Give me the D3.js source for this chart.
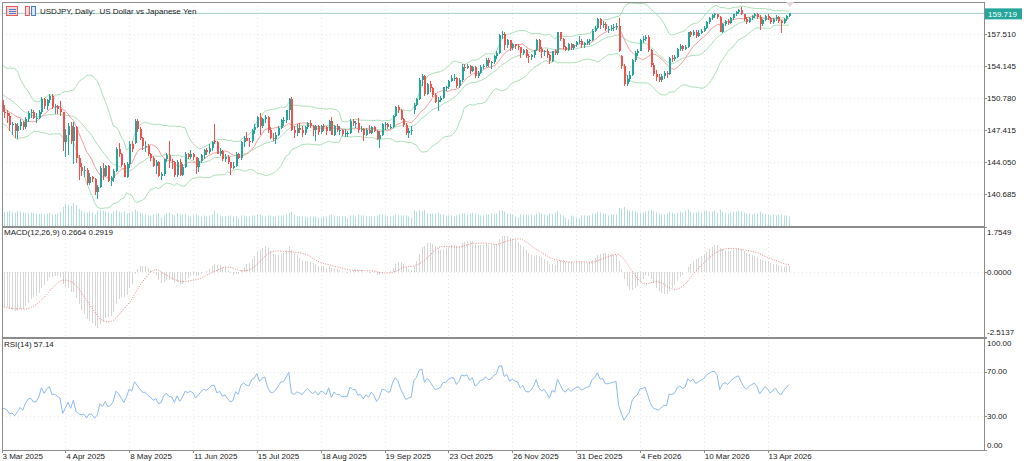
<!DOCTYPE html>
<html><head><meta charset="utf-8">
<script src="https://cdn.jsdelivr.net/npm/d3@7"></script>
<style>
body{margin:0;background:#fff;}
svg{display:block;font-family:"Liberation Sans",Arial,sans-serif;}
</style>
</head><body>
<svg id="c" width="1024" height="461"></svg>
<script>
// ---------- DATA ----------
// closes before the first visible bar (used only to warm up the indicators)
const priorClose = [149.6,149.6,150.6,150.1,150.0,151.2,151.9,152.4,152.7,153.6,154.1,153.5,154.7,157.4,156.4,157.1,157.2,157.9,157.9,156.9,157.2,
157.5,157.3,157.6,158.1,158.3,158.1,157.7,157.5,158.0,156.5,155.2,156.3,155.6,155.5,156.6,156.0,156.0,154.6,155.5,155.2,154.3,155.2,
154.7,154.4,152.6,151.9,151.4,152.0,152.5,154.4,152.8,152.3,151.5,151.9,151.5,149.9,149.3,149.7,149.0,149.1,149.8,150.6];

const open = [150.6,149.3,149.2,148.9,147.9,148.0,147.3,147.8,148.3,147.7,
148.6,149.2,149.3,148.7,148.7,149.3,150.7,149.9,150.6,151.0,
149.8,149.9,149.6,149.3,146.1,146.9,147.8,146.3,147.7,144.5,
143.5,143.1,143.2,141.8,142.5,142.2,140.9,141.4,143.4,142.6,
143.6,142.0,142.3,143.1,145.4,144.9,143.7,142.5,143.8,145.9,
146.0,148.4,147.5,146.6,145.7,145.7,144.9,144.5,143.6,144.0,
142.6,142.8,144.3,144.8,144.1,144.0,142.7,144.0,142.7,143.5,
144.9,144.6,144.9,144.6,143.5,144.1,144.8,145.3,145.1,145.5,
146.3,146.1,144.9,145.2,144.4,144.6,144.0,143.4,143.6,144.9,
144.5,146.1,146.6,146.3,146.2,147.4,147.7,148.8,147.8,148.6,
148.8,147.4,146.6,146.5,146.9,147.6,148.5,148.5,149.5,150.7,
147.4,147.1,147.6,147.4,147.1,147.7,148.2,147.8,147.4,147.8,
147.2,147.8,147.7,147.3,148.4,146.9,147.8,147.4,147.4,147.0,
147.1,147.1,148.4,148.1,148.1,147.4,147.5,146.9,147.4,147.1,
147.7,147.3,146.5,146.9,148.0,148.0,147.7,147.7,148.9,149.8,
149.5,148.6,147.9,147.1,147.3,149.5,150.1,150.7,152.7,153.1,
151.2,152.3,151.8,151.1,150.4,150.6,150.8,151.9,151.9,152.6,
152.9,152.9,152.1,152.7,154.1,154.0,154.2,153.6,154.1,153.1,
153.4,154.1,154.2,154.8,154.5,154.6,155.2,155.5,157.4,157.5,
156.4,156.9,156.1,156.5,156.3,156.2,155.5,155.9,155.2,155.1,
155.3,155.9,156.9,156.0,155.6,155.8,155.3,154.7,155.7,155.5,
157.7,157.0,156.2,155.9,156.5,156.1,156.4,156.7,156.8,156.4,
156.6,156.8,156.9,157.9,158.2,159.1,158.5,158.6,158.1,158.1,
158.2,158.3,158.4,155.2,154.2,152.3,152.8,153.2,154.8,155.5,
155.8,156.9,157.0,157.2,155.9,154.3,153.3,153.0,152.7,153.1,
153.4,153.3,155.0,154.9,155.1,156.0,156.3,156.0,156.2,157.7,
157.4,157.8,157.3,157.6,157.9,158.2,158.8,159.2,159.5,159.6,
159.3,157.8,158.6,158.9,158.7,159.2,159.6,159.9,160.1,159.6,
159.1,158.8,159.2,159.4,159.6,159.3,158.6,159.0,159.4,159.2,
158.8,159.1,159.3,158.9,158.7,159.1,159.4];

const high = [151.2,150.0,149.5,149.2,148.3,148.2,148.1,148.6,148.4,148.8,
149.4,149.6,149.5,149.2,149.5,150.9,150.8,150.7,151.2,151.2,
150.2,150.0,150.5,149.3,147.5,148.1,148.3,148.3,147.8,144.8,
143.9,143.6,143.4,142.9,142.6,142.3,141.6,143.6,143.9,143.7,
143.7,142.6,143.3,145.6,146.0,145.0,143.9,144.0,146.2,146.2,
148.6,148.6,147.7,146.7,146.2,145.9,145.0,144.7,144.2,144.1,
143.0,144.4,145.0,146.3,144.4,144.1,144.2,144.3,143.8,145.1,
145.0,145.3,145.0,144.6,144.5,144.9,145.4,145.5,145.9,146.2,
148.0,146.3,145.5,145.3,144.9,144.8,144.0,144.0,145.1,145.0,
146.2,146.8,147.2,146.6,147.5,148.0,148.9,149.2,148.7,149.0,
148.9,147.7,147.1,147.2,147.8,148.6,148.8,149.5,150.8,150.9,
147.8,148.0,148.1,147.8,147.8,148.3,148.5,147.9,147.9,147.9,
147.9,148.0,147.8,148.5,148.8,147.9,148.0,147.8,147.5,147.5,
147.3,148.6,148.6,148.4,148.7,147.8,147.6,147.6,147.9,147.8,
147.8,147.4,147.3,148.2,148.3,148.2,148.0,149.0,149.9,150.0,
149.6,148.7,148.2,147.6,147.8,150.3,150.8,152.9,153.3,153.2,
152.4,152.6,151.9,151.3,150.9,151.0,152.0,152.1,152.7,153.2,
153.3,153.0,152.9,154.4,154.4,154.4,154.3,154.2,154.2,153.6,
154.3,154.4,155.0,155.0,154.7,155.3,155.7,157.5,157.9,157.7,
157.0,156.9,156.6,156.5,156.5,156.2,156.0,156.0,155.4,155.4,
155.9,157.0,157.0,156.2,155.9,156.0,155.4,155.8,156.0,157.8,
157.8,157.1,156.3,156.6,156.6,156.5,156.8,157.3,157.0,156.7,
157.0,157.0,158.1,158.4,159.2,159.2,158.9,158.8,158.4,158.5,
158.6,158.7,159.2,155.3,154.4,153.2,153.6,154.9,155.7,156.0,
157.0,157.3,157.4,157.4,156.0,154.5,153.7,153.3,153.3,153.6,
153.6,155.1,155.3,155.3,156.1,156.5,156.4,156.4,157.8,157.9,
158.0,158.0,158.0,158.1,158.4,158.9,159.3,159.6,159.8,159.7,
159.4,158.7,159.0,159.1,159.3,159.7,160.0,160.2,160.4,159.7,
159.3,159.3,159.5,159.8,159.8,159.5,159.1,159.5,159.6,159.3,
159.2,159.5,159.4,159.0,159.2,159.5,159.8];

const low = [148.8,148.7,148.2,147.3,146.9,146.6,146.5,147.4,147.4,147.5,
148.3,148.7,148.6,148.2,148.6,149.1,149.6,149.5,150.3,149.6,
149.1,149.1,148.9,145.2,144.6,144.8,145.9,143.8,143.9,142.1,
142.6,142.4,141.6,141.6,141.9,140.6,140.1,141.3,142.1,142.4,
141.9,141.5,141.9,143.0,144.6,143.5,142.4,142.3,143.4,145.1,
145.9,147.2,146.4,145.3,145.1,144.7,144.1,143.5,142.8,142.4,
142.1,142.6,144.0,143.4,143.3,142.5,142.4,142.6,142.6,143.4,
144.3,144.4,144.2,142.8,143.0,143.9,144.4,144.8,144.9,145.2,
145.9,144.9,144.7,144.1,144.0,143.8,142.7,143.3,143.5,144.3,
144.2,145.6,146.2,145.6,146.0,147.0,147.6,146.9,147.6,148.2,
147.1,146.5,146.2,145.9,146.8,147.5,147.8,148.1,148.5,147.3,
146.6,146.8,147.1,146.7,146.9,147.5,147.6,146.8,146.2,146.9,
147.0,147.3,146.9,147.3,146.9,146.8,147.2,146.9,146.8,146.7,
146.7,147.0,147.8,147.6,147.1,147.2,146.3,146.8,147.0,147.0,
147.2,146.4,145.5,146.8,147.4,147.5,147.5,147.6,148.8,149.2,
148.5,147.7,146.9,146.6,146.9,149.1,149.9,150.6,152.1,151.0,
151.1,151.4,150.9,150.3,149.4,150.4,150.7,151.5,151.7,152.5,
152.6,151.8,151.8,152.5,153.6,153.9,153.3,153.5,152.9,152.9,
153.3,153.9,154.1,154.1,153.9,154.4,154.9,155.4,157.0,155.9,
156.1,155.8,155.9,156.0,155.9,155.0,155.3,155.0,154.5,154.8,
155.0,155.8,155.6,155.0,155.2,155.0,154.4,154.6,155.3,155.3,
156.8,156.0,155.7,155.8,155.9,155.9,156.2,156.5,156.1,156.1,
156.4,156.4,156.8,157.7,158.1,158.1,158.2,157.9,157.6,157.9,
157.9,158.0,155.6,153.8,152.1,152.1,152.5,153.1,154.6,155.2,
155.7,156.6,156.8,155.6,154.1,153.1,152.6,152.5,152.5,152.8,
152.9,153.2,154.6,154.7,155.0,155.8,155.8,155.9,156.1,157.2,
157.3,157.1,157.2,157.5,157.8,158.1,158.6,159.0,159.2,159.1,
157.7,157.6,158.4,158.5,158.6,159.0,159.4,159.7,159.5,158.9,
158.6,158.7,159.0,159.2,159.1,158.0,158.4,158.9,159.0,158.6,
158.6,158.9,158.7,157.6,158.6,158.9,159.3];

const close = [149.3,149.2,148.9,147.9,148.0,147.3,147.8,148.3,147.7,148.6,
149.2,149.3,148.7,148.7,149.3,150.7,149.9,150.6,151.0,149.8,
149.9,149.6,149.3,146.1,146.9,147.8,146.3,147.7,144.5,143.5,
143.1,143.2,141.8,142.5,142.2,140.9,141.4,143.4,142.6,143.6,
142.0,142.3,143.1,145.4,144.9,143.7,142.5,143.8,145.9,145.4,
148.4,147.5,146.6,145.7,145.7,144.9,144.5,143.6,144.0,142.6,
142.8,144.3,144.8,144.1,144.0,142.7,144.0,142.7,143.5,144.9,
144.6,144.9,144.6,143.5,144.1,144.8,145.3,145.1,145.5,146.1,
146.1,144.9,145.2,144.4,144.6,144.0,143.4,143.6,144.9,144.5,
146.1,146.6,146.3,146.2,147.4,147.7,148.8,147.8,148.6,148.8,
147.4,146.6,146.5,146.9,147.6,148.5,148.5,149.5,150.7,147.4,
147.1,147.6,147.4,147.1,147.7,148.2,147.8,147.4,147.8,147.2,
147.8,147.7,147.3,148.4,146.9,147.8,147.4,147.4,147.0,147.1,
147.1,148.4,148.1,148.1,147.4,147.5,146.9,147.4,147.1,147.7,
147.3,146.5,146.9,148.0,148.0,147.7,147.7,148.9,149.8,149.5,
148.6,147.9,147.1,147.3,147.4,150.1,150.7,152.7,153.1,151.2,
152.3,151.8,151.1,150.4,150.6,150.8,151.9,151.9,152.6,152.9,
152.9,152.1,152.7,154.1,154.0,154.2,153.6,154.1,153.1,153.4,
154.1,154.2,154.8,154.5,154.6,155.2,155.5,157.4,157.5,156.4,
156.9,156.1,156.5,156.3,156.2,155.5,155.9,155.2,155.1,155.3,
155.9,156.9,156.0,155.6,155.8,155.3,154.7,155.7,155.5,157.7,
157.0,156.2,155.9,156.5,156.1,156.4,156.7,156.8,156.4,156.6,
156.8,156.9,157.9,158.2,159.1,158.5,158.6,158.1,158.1,158.2,
158.3,158.4,155.7,154.2,152.3,152.8,153.2,154.8,155.5,155.8,
156.9,157.0,157.2,155.9,154.3,153.3,153.0,152.7,153.1,153.4,
153.3,155.0,154.9,155.1,156.0,156.3,156.0,156.2,157.7,157.4,
157.8,157.3,157.6,157.9,158.2,158.8,159.2,159.5,159.6,159.3,
157.8,158.6,158.9,158.7,159.2,159.6,159.9,160.1,159.6,159.1,
158.8,159.2,159.4,159.6,159.3,158.6,159.0,159.4,159.2,158.8,
159.1,159.3,158.9,158.7,159.1,159.4,159.719];

const volume = [150,145,150,160,150,140,155,150,140,135,130,140,135,130,125,130,125,130,135,120,125,130,150,
200,230,220,210,240,220,180,160,150,140,150,140,120,160,170,160,150,140,130,150,
160,150,140,150,130,140,150,170,150,140,130,120,110,110,120,120,130,90,110,130,140,
120,110,130,120,120,130,110,100,110,120,110,100,110,100,110,120,160,130,110,100,100,100,
110,100,100,80,110,110,100,100,110,110,120,120,110,100,110,110,100,100,110,110,110,120,140,
150,
120,100,100,100,100,90,100,100,100,90,90,100,100,110,120,100,100,100,100,100,
80,110,110,100,120,110,110,100,100,100,100,110,120,120,110,100,100,110,120,110,110,110,
110,100,90,170,150,160,150,170,130,130,130,130,140,120,120,110,110,110,100,110,120,130,130,
120,130,140,130,120,110,110,120,120,130,120,130,160,160,150,130,130,120,100,90,
120,120,120,110,120,110,130,140,130,120,110,130,120,140,160,120,110,90,70,110,100,90,
80,110,110,110,110,130,130,150,140,130,130,110,120,120,120,190,180,200,170,160,160,
150,140,140,140,150,160,170,150,140,130,120,120,130,150,140,130,140,150,140,
160,170,150,140,140,150,140,150,160,150,150,160,140,170,150,140,130,140,150,150,160,150,
140,130,130,120,130,130,150,130,120,120,110,120,110,120,120,110,110,100];

const xTickIndex  = [0,24,48,72,96,120,144,168,192,216,240,264,288];
const xTickLabels = ["3 Mar 2025","4 Apr 2025","8 May 2025","11 Jun 2025","15 Jul 2025","18 Aug 2025","19 Sep 2025",
                     "23 Oct 2025","26 Nov 2025","31 Dec 2025","4 Feb 2026","10 Mar 2026","13 Apr 2026"];
const priceTicks = [157.510,154.145,150.780,147.415,144.050,140.685];
const macdTicks  = [1.7549,0,-2.5137];
const rsiTicks   = [100,70,30,0];
const lastPrice  = 159.719;
const titleText  = "USDJPY, Daily:  US Dollar vs Japanese Yen";
const macdText   = "MACD(12,26,9) 0.2664 0.2919";
const rsiText    = "RSI(14) 57.14";

// ---------- INDICATORS ----------
const N = Math.min(open.length, high.length, low.length, close.length);
const P = priorClose.length;
const all = priorClose.concat(close.slice(0, N));
function smaAt(arr, i, n){ let s=0,c=0; for(let k=Math.max(0,i-n+1);k<=i;k++){s+=arr[k];c++;} return s/c; }
function sdAt(arr, i, n){ const m=smaAt(arr,i,n); let s=0,c=0; for(let k=Math.max(0,i-n+1);k<=i;k++){s+=(arr[k]-m)**2;c++;} return Math.sqrt(s/c); }
function ema(arr, n){ const k=2/(n+1); const out=[arr[0]]; for(let i=1;i<arr.length;i++) out.push(arr[i]*k+out[i-1]*(1-k)); return out; }
const e12=ema(all,12), e26=ema(all,26);
const macdMain = all.map((v,i)=>e12[i]-e26[i]);
const macdSig  = macdMain.map((v,i)=>smaAt(macdMain,i,9));
const rsi=new Array(all.length).fill(50);
{ let g=0,l=0; for(let i=1;i<=14;i++){const d=all[i]-all[i-1]; if(d>0)g+=d; else l-=d;} g/=14; l/=14;
  for(let i=15;i<all.length;i++){const d=all[i]-all[i-1]; g=(g*13+Math.max(d,0))/14; l=(l*13+Math.max(-d,0))/14; rsi[i]= l===0?100:100-100/(1+g/l);} }

const bars = d3.range(N).map(i=>{
  const j=P+i, m=smaAt(all,j,20), s=sdAt(all,j,20);
  return {i, o:open[i], h:high[i], l:low[i], c:close[i], v:volume[i]||0,
          mid:m, up:m+2*s, dn:m-2*s, ma:smaAt(all,j,10),
          macd:macdMain[j], sig:macdSig[j], rsi:rsi[j]};
});

// ---------- LAYOUT ----------
const svg=d3.select("#c");
const plotL=2, plotR=984, mainT=2, mainB=226, macdT=227, macdB=337, rsiT=338, rsiB=450;
const x = d3.scaleLinear().domain([0,296]).range([1.5, 1.5+2.66*296]);
const y = d3.scaleLinear().domain([140.685,157.510]).range([193.7,34.3]);
const yv = d3.scaleLinear().domain([0,d3.max(volume)]).range([mainB,mainB-23]);
const ym = d3.scaleLinear().domain([-2.5137,1.7549]).range([macdB,macdT]);
const yr = d3.scaleLinear().domain([0,100]).range([rsiB,rsiT]);

const defs=svg.append("defs");
[["cm",mainT,mainB],["cmacd",macdT,macdB],["crsi",rsiT,rsiB]].forEach(([id,t,b])=>{
  defs.append("clipPath").attr("id",id).append("rect").attr("x",plotL).attr("y",t).attr("width",plotR-plotL).attr("height",b-t);
});

const txt="#1a1a1a", gridC="#e6e6e6";
const grid=svg.append("g").attr("stroke",gridC).attr("stroke-dasharray","1,3").attr("shape-rendering","crispEdges");
xTickIndex.forEach(i=>{ [[mainT,mainB],[macdT,macdB],[rsiT,rsiB]].forEach(([t,b])=>{
  grid.append("line").attr("x1",Math.round(x(i))+0.5).attr("x2",Math.round(x(i))+0.5).attr("y1",t).attr("y2",b);});});
priceTicks.forEach(p=>grid.append("line").attr("x1",plotL).attr("x2",plotR).attr("y1",Math.round(y(p))+0.5).attr("y2",Math.round(y(p))+0.5));
grid.append("line").attr("x1",plotL).attr("x2",plotR).attr("y1",Math.round(ym(0))+0.5).attr("y2",Math.round(ym(0))+0.5);
[70,30].forEach(v=>grid.append("line").attr("x1",plotL).attr("x2",plotR).attr("y1",Math.round(yr(v))+0.5).attr("y2",Math.round(yr(v))+0.5));

// main panel
const gm=svg.append("g").attr("clip-path","url(#cm)");
gm.append("g").selectAll("rect").data(bars).join("rect")
  .attr("x",d=>Math.round(x(d.i))).attr("width",1).attr("y",d=>yv(d.v)).attr("height",d=>mainB-yv(d.v))
  .attr("fill","#b3e0da");
gm.append("line").attr("x1",plotL).attr("x2",plotR).attr("y1",y(lastPrice)).attr("y2",y(lastPrice))
  .attr("stroke","#a3cfcf").attr("stroke-width",1);
const bbC="#ace0b8";
["up","mid","dn"].forEach(k=>gm.append("path").datum(bars).attr("fill","none").attr("stroke",bbC).attr("stroke-width",1)
  .attr("d",d3.line().x(d=>x(d.i)).y(d=>y(d[k]))));
gm.append("path").datum(bars).attr("fill","none").attr("stroke","#f4a09a").attr("stroke-width",1)
  .attr("d",d3.line().x(d=>x(d.i)).y(d=>y(d.ma)));
const up="#26a69a", dn="#ef5350";
const cg=gm.append("g").attr("shape-rendering","crispEdges");
cg.selectAll("line").data(bars).join("line")
  .attr("x1",d=>Math.round(x(d.i))+0.5).attr("x2",d=>Math.round(x(d.i))+0.5)
  .attr("y1",d=>y(Math.max(d.h,d.o,d.c))).attr("y2",d=>y(Math.min(d.l,d.o,d.c)))
  .attr("stroke",d=>d.c>=d.o?up:dn).attr("stroke-width",1);
cg.selectAll("rect").data(bars).join("rect")
  .attr("x",d=>Math.round(x(d.i))-0.5).attr("width",2)
  .attr("y",d=>y(Math.max(d.o,d.c))).attr("height",d=>Math.max(1,Math.abs(y(d.o)-y(d.c))))
  .attr("fill",d=>d.c>=d.o?up:dn);

// MACD panel
const gmc=svg.append("g").attr("clip-path","url(#cmacd)");
gmc.append("g").attr("shape-rendering","crispEdges").selectAll("rect").data(bars).join("rect")
  .attr("x",d=>Math.round(x(d.i))).attr("width",1)
  .attr("y",d=>Math.min(ym(0),ym(d.macd))).attr("height",d=>Math.abs(ym(d.macd)-ym(0)))
  .attr("fill","#d6d6d6");
gmc.append("path").datum(bars).attr("fill","none").attr("stroke","#f08080").attr("stroke-width",1)
  .attr("stroke-dasharray","1,1.5").attr("d",d3.line().x(d=>x(d.i)).y(d=>ym(d.sig)));

// RSI panel
const gr=svg.append("g").attr("clip-path","url(#crsi)");
gr.append("path").datum(bars).attr("fill","none").attr("stroke","#8dbbf0").attr("stroke-width",1)
  .attr("d",d3.line().x(d=>x(d.i)).y(d=>yr(d.rsi)));

// frames
const fr=svg.append("g").attr("fill","none").attr("stroke","#8c8c8c").attr("shape-rendering","crispEdges");
fr.append("rect").attr("x",plotL+0.5).attr("y",mainT+0.5).attr("width",plotR-plotL).attr("height",rsiB-mainT);
fr.append("line").attr("x1",plotL).attr("x2",plotR).attr("y1",mainB+0.5).attr("y2",mainB+0.5).attr("stroke-width",2);
fr.append("line").attr("x1",plotL).attr("x2",plotR).attr("y1",macdB+0.5).attr("y2",macdB+0.5).attr("stroke-width",2);

// right axes
const ax=svg.append("g").attr("font-size",8).attr("fill",txt);
function rLabel(yy, s, dy){ ax.append("line").attr("x1",plotR).attr("x2",plotR+3).attr("y1",Math.round(yy)+0.5).attr("y2",Math.round(yy)+0.5).attr("stroke","#8c8c8c");
  ax.append("text").attr("x",plotR+3).attr("y",yy+(dy||0)).attr("dy","0.35em").text(s); }
priceTicks.forEach(p=>rLabel(y(p), p.toFixed(3)));
macdTicks.forEach((v,k)=>rLabel(ym(v), v.toFixed(4), k===0?5:(k===2?-5:0)));
rsiTicks.forEach((v,k)=>rLabel(yr(v), v.toFixed(2), k===0?5:(k===3?-5:0)));
ax.append("rect").attr("x",plotR+1).attr("y",y(lastPrice)-5).attr("width",37).attr("height",11).attr("fill","#26a69a");
ax.append("text").attr("x",plotR+4).attr("y",y(lastPrice)+0.5).attr("dy","0.35em").attr("fill","#fff").text(lastPrice.toFixed(3));

// bottom time axis
xTickIndex.forEach((i,k)=>{
  ax.append("line").attr("x1",Math.round(x(i))+0.5).attr("x2",Math.round(x(i))+0.5).attr("y1",rsiB).attr("y2",rsiB+3).attr("stroke","#8c8c8c");
  ax.append("text").attr("x",x(i)+1).attr("y",456).attr("dy","0.35em").text(xTickLabels[k]);
});

// titles
ax.append("text").attr("x",40).attr("y",11).attr("dy","0.35em").style("white-space","pre").text(titleText);
ax.append("text").attr("x",4).attr("y",232).attr("dy","0.35em").text(macdText);
ax.append("text").attr("x",4).attr("y",344).attr("dy","0.35em").text(rsiText);

// header icons
const ic=svg.append("g").attr("shape-rendering","crispEdges");
ic.append("rect").attr("x",6.5).attr("y",6.5).attr("width",11).attr("height",9).attr("fill","#f6d6d6").attr("stroke","#e06060");
[9,11,13].forEach(v=>ic.append("line").attr("x1",9).attr("x2",16).attr("y1",v+0.5).attr("y2",v+0.5).attr("stroke","#4a7fd0"));
ic.append("rect").attr("x",25.5).attr("y",6.5).attr("width",4).attr("height",9).attr("fill","#f6d6d6").attr("stroke","#e06060");
ic.append("rect").attr("x",31.5).attr("y",6.5).attr("width",4).attr("height",9).attr("fill","#dbe7f7").attr("stroke","#4a7fd0");
svg.append("path").attr("d","M786,2 L794,2 L790,7 Z").attr("fill","#e6d9dd");
</script>
</body></html>
